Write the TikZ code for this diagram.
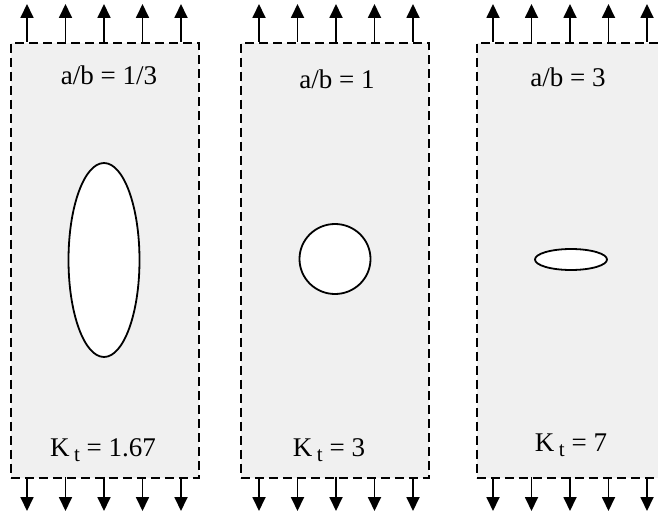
\documentclass[tikz,border=0pt]{standalone}
\usepackage{fontspec}
\setmainfont{Liberation Serif}
\usetikzlibrary{arrows.meta}
\begin{document}
\begin{tikzpicture}[x=1pt,y=-1pt,
  plate/.style={draw=black,fill=black!6,line width=1.8pt,dash pattern=on 9pt off 5pt,minimum width=188pt,minimum height=435pt,inner sep=0pt,anchor=north west},
  load/.style={line width=1.8pt,-{Triangle[width=13pt,length=14pt]}},
  lbl/.style={font=\fontsize{27}{29}\selectfont}]
\useasboundingbox (0,0) rectangle (658,516);
\begin{scope}
\clip (0,0) rectangle (658,516);
% plates
\node[plate] (p1) at (10,42) {};
\node[plate] (p2) at (240,42) {};
\node[plate] (p3) at (476,42) {};
% holes
\draw[line width=1.8pt,fill=white] (104,260) ellipse [x radius=35.5, y radius=97];
\draw[line width=1.8pt,fill=white] (335,259) ellipse [x radius=35.5, y radius=35];
\draw[line width=1.8pt,fill=white] (571,259.5) ellipse [x radius=36, y radius=10.5];
% labels
\node[lbl] (t1) at (109,75) {a/b = 1/3};
\node[lbl] (t2) at (337,79) {a/b = 1};
\node[lbl] (t3) at (568,77) {a/b = 3};
\node[lbl] (k1) at (103,450) {K\,{\raisebox{-5pt}{\fontsize{21}{23}\selectfont t}} = 1.67};
\node[lbl] (k2) at (329,450) {K\,{\raisebox{-5pt}{\fontsize{21}{23}\selectfont t}} = 3};
\node[lbl] (k3) at (571,445) {K\,{\raisebox{-5pt}{\fontsize{21}{23}\selectfont t}} = 7};
% loads
\foreach \L/\p in {27/p1,259/p2,493/p3}{
  \foreach \i in {0,...,4}{
    \pgfmathsetmacro{\xx}{\L+38.5*\i}
    \coordinate (top) at (\xx,42);
    \coordinate (toptip) at (\xx,4);
    \coordinate (bot) at (\xx,477);
    \coordinate (bottip) at (\xx,511);
    \draw[load] (top) -- (toptip);
    \draw[load] (bot) -- (bottip);
  }
}
\end{scope}
\end{tikzpicture}
\end{document}
